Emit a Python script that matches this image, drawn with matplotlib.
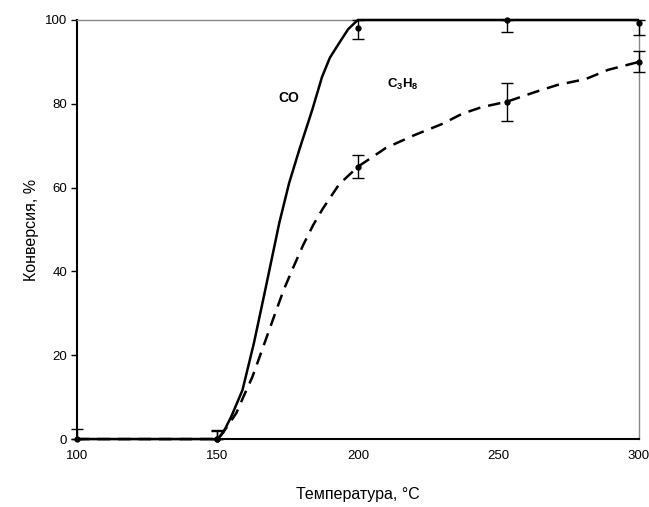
import matplotlib.pyplot as plt

plt.rcParams['font.family'] = ['Liberation Sans', 'DejaVu Sans']
plt.rcParams['mathtext.fontset'] = 'custom'
plt.rcParams['mathtext.rm'] = 'Liberation Sans'
plt.rcParams['mathtext.bf'] = 'Liberation Sans:bold'

# curve
co_t = [100, 150, 152, 155, 158.9, 163, 167, 172, 175.5, 179.1, 183.7, 187.2, 190, 193.3, 196.5, 199.3, 200, 253, 300]
co_x = [0, 0, 1.5, 5.5, 11.7, 23, 35.6, 51.6, 61.1, 69.0, 78.5, 86.4, 91, 94.5, 97.8, 99.6, 100, 100, 100]

c3_t = [100, 150, 150.7, 153.5, 156.7, 159.5, 162.4, 166.0, 170.0, 173.5, 177.0, 180.5, 184.0, 187.5, 193.3, 200,
        210, 220, 230, 237, 244, 253, 263, 271, 281, 289, 300]
c3_x = [0, 0, 0.5, 3, 6.2, 10.5, 14.8, 21.5, 29.0, 35.5, 41.0, 46.3, 51.0, 55.0, 60.8, 65,
        69.5, 72.5, 75.2, 77.6, 79.2, 80.5, 82.8, 84.5, 85.9, 88.1, 90]

# measured points with error bars (lower, upper)
co_pts_t = [100, 150, 200, 253, 300]
co_pts_x = [0, 0, 98, 100, 99.2]
co_lo = [0, 0, 2.5, 2.8, 2.8]
co_hi = [2.5, 2.2, 2.0, 0, 0.8]

c3_pts_t = [150, 200, 253, 300]
c3_pts_x = [0, 65, 80.5, 90]
c3_lo = [0, 2.8, 4.5, 2.5]
c3_hi = [2.0, 2.8, 4.5, 2.5]

fig = plt.figure(figsize=(6.49, 5.07), dpi=100)
ax = fig.add_axes([0.1186, 0.134, 0.866, 0.8266])

ax.plot(co_t, co_x, color='black', lw=1.8, solid_capstyle='butt', zorder=3, clip_on=False)
ax.plot(c3_t, c3_x, color='black', lw=1.8, dashes=(5, 3.2), zorder=3, clip_on=False)

for t, x, lo, hi in [(co_pts_t, co_pts_x, co_lo, co_hi), (c3_pts_t, c3_pts_x, c3_lo, c3_hi)]:
    eb = ax.errorbar(t, x, yerr=[lo, hi], fmt='o', ms=3.5, color='black',
                     ecolor='black', elinewidth=1, capsize=4, capthick=1, zorder=4)
    for a in eb.get_children():
        a.set_clip_on(False)

ax.set_xlim(100, 300)
ax.set_ylim(0, 100)
ax.set_xticks([100, 150, 200, 250, 300])
ax.set_yticks([0, 20, 40, 60, 80, 100])

for s in ['left', 'bottom']:
    ax.spines[s].set_linewidth(1.5)
    ax.spines[s].set_color('black')
for s in ['top', 'right']:
    ax.spines[s].set_linewidth(1.0)
    ax.spines[s].set_color('#888888')

ax.tick_params(axis='y', direction='out', length=4, width=1, labelsize=9.5, pad=3)
ax.tick_params(axis='x', length=0, labelsize=9.5, pad=8)

ax.set_xlabel('Температура, °C', fontsize=11.5, labelpad=18)
ax.set_ylabel('Конверсия, %', fontsize=11.5, labelpad=4)

ax.text(175.5, 81.5, 'CO', fontsize=10, fontweight='bold', family='Liberation Sans',
        ha='center', va='center')
ax.text(216, 84.5, r'$\mathbf{C_3H_8}$', fontsize=9.5, ha='center', va='center')

fig.savefig('out.png', dpi=100)
